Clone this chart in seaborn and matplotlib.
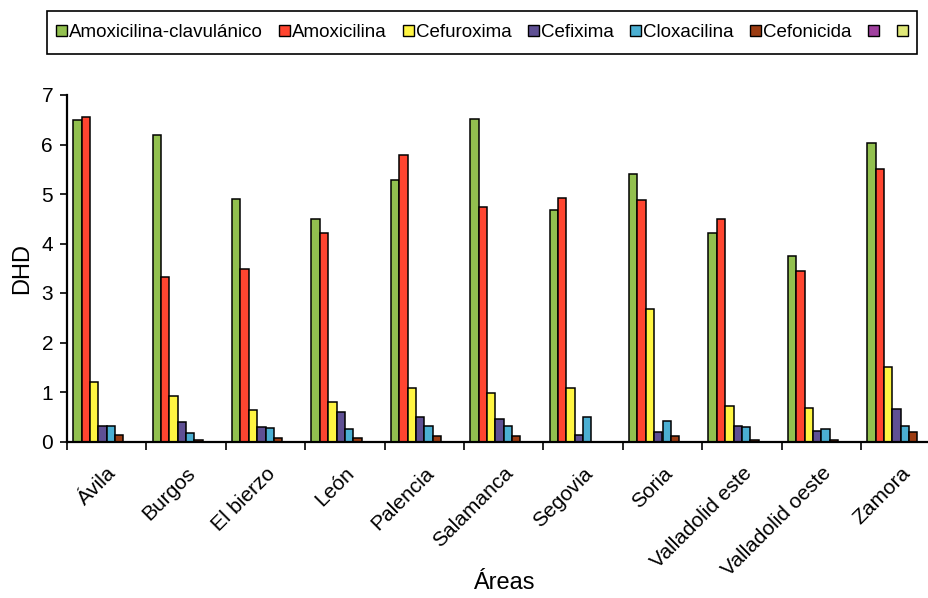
import numpy as np
import pandas as pd
import matplotlib
matplotlib.use("Agg")
import matplotlib.pyplot as plt
import seaborn as sns
from matplotlib.patches import Patch, Rectangle
from matplotlib.ticker import FixedLocator

# Dispensación de antibióticos por área de salud (DHD)
areas = ["Ávila", "Burgos", "El bierzo", "León", "Palencia", "Salamanca",
         "Segovia", "Soria", "Valladolid este", "Valladolid oeste", "Zamora"]

amox_clav = [6.49, 6.19, 4.89, 4.49, 5.28, 6.52, 4.67, 5.40, 4.22, 3.74, 6.04]
amoxicilina = [6.55, 3.33, 3.49, 4.21, 5.78, 4.74, 4.91, 4.88, 4.49, 3.45, 5.51]
cefuroxima = [1.20, 0.92, 0.64, 0.79, 1.09, 0.98, 1.09, 2.68, 0.71, 0.67, 1.51]
cefixima = [0.31, 0.39, 0.30, 0.59, 0.49, 0.46, 0.13, 0.19, 0.31, 0.22, 0.65]
cloxacilina = [0.31, 0.18, 0.28, 0.25, 0.31, 0.31, 0.50, 0.42, 0.29, 0.25, 0.31]
cefonicida = [0.13, 0.03, 0.08, 0.08, 0.12, 0.12, 0.00, 0.12, 0.04, 0.03, 0.19]
serie_7 = [None] * len(areas)
serie_8 = [None] * len(areas)

series_names = ["Amoxicilina-clavulánico", "Amoxicilina", "Cefuroxima",
                "Cefixima", "Cloxacilina", "Cefonicida", " ", "  "]
series_values = [amox_clav, amoxicilina, cefuroxima, cefixima,
                 cloxacilina, cefonicida, serie_7, serie_8]
colors = ["#92C04F", "#FF4530", "#FFF542", "#5F5094", "#4BAFD2",
          "#9C3C12", "#A0409F", "#E0E878"]

rows = []
for name, vals in zip(series_names, series_values):
    for area, v in zip(areas, vals):
        rows.append({"Área": area, "Serie": name,
                     "DHD": np.nan if v is None else v})
df = pd.DataFrame(rows)

sns.set_style("ticks")
plt.rcParams["font.family"] = ["Liberation Sans", "DejaVu Sans"]
plt.rcParams.update({"text.color": "black", "axes.labelcolor": "black",
                     "xtick.color": "black", "ytick.color": "black"})

W, H = 929, 598
fig = plt.figure(figsize=(W / 100, H / 100), dpi=100)
ax = fig.add_axes([67 / W, 156.5 / H, 873.4 / W, 346.5 / H])

sns.barplot(data=df, x="Área", y="DHD", hue="Serie", order=areas,
            hue_order=series_names, palette=colors, width=0.845,
            saturation=1, edgecolor="black", linewidth=1.1,
            legend=False, ax=ax)

ax.set_xlim(-0.5, len(areas) - 0.5)
ax.set_ylim(0, 7)
ax.set_yticks(range(0, 8))
ax.tick_params(axis="y", labelsize=15, length=5, width=1.2, color="black",
               labelcolor="black", pad=5)

# category labels centred on groups, tick marks at group boundaries
ax.set_xticks(np.arange(len(areas)))
ax.set_xticklabels(areas, rotation=45, ha="right", rotation_mode="anchor",
                   fontsize=15)
ax.tick_params(axis="x", which="major", length=0, pad=16, labelcolor="black")
ax.xaxis.set_minor_locator(FixedLocator(np.arange(-0.5, len(areas), 1.0)))
ax.tick_params(axis="x", which="minor", length=6, width=1.2, color="black")

for side in ["left", "bottom"]:
    ax.spines[side].set_linewidth(1.6)
    ax.spines[side].set_color("black")
sns.despine(ax=ax)

ax.set_xlabel("Áreas", fontsize=17, color="black")
ax.xaxis.set_label_coords(0.5, -0.378)
ax.set_ylabel("DHD", fontsize=17, labelpad=6, color="black")

# legend in one row inside a plain rectangular frame
handles = [Patch(facecolor=c, edgecolor="black", linewidth=1.0) for c in colors]
leg_labels = ["Amoxicilina-clavulánico", "Amoxicilina", "Cefuroxima",
              "Cefixima", "Cloxacilina", "Cefonicida", "", ""]
fig.legend(handles, leg_labels, loc="center left",
           bbox_to_anchor=(56 / W, 1 - 32.5 / H), ncol=8,
           frameon=False, fontsize=13.5, handlelength=0.58,
           handleheight=0.58, handletextpad=0.12, columnspacing=0.86,
           borderpad=0, borderaxespad=0, labelcolor="black")
fig.add_artist(Rectangle((47 / W, 1 - 54 / H), 870 / W, 43 / H,
                         transform=fig.transFigure, fill=False,
                         edgecolor="black", linewidth=1.2))

fig.savefig("out.png", dpi=100)
